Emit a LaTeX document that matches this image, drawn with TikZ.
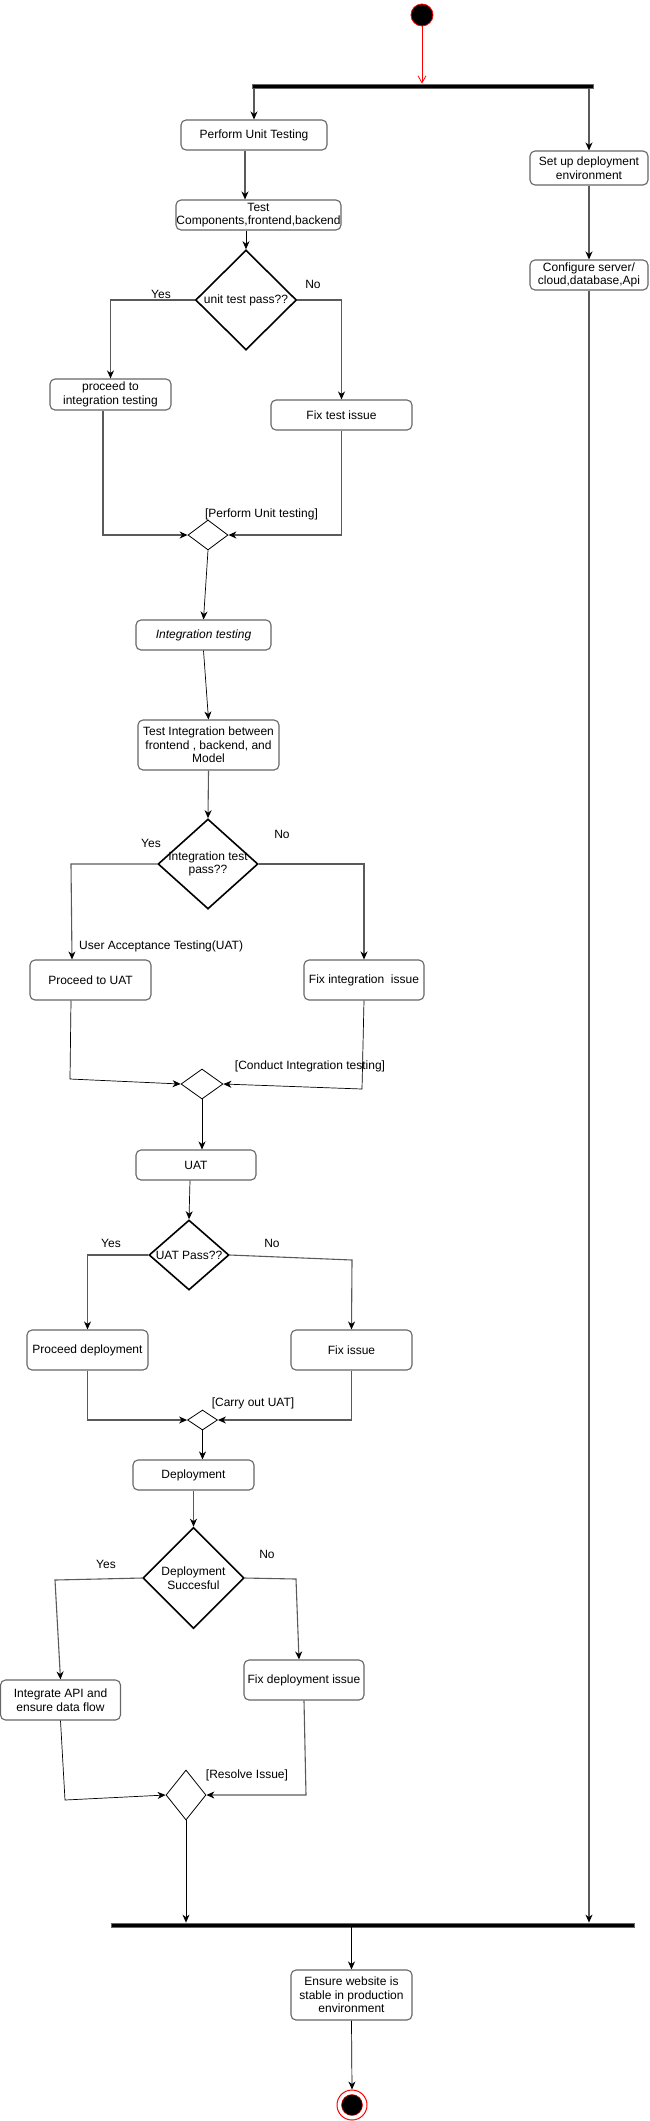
\documentclass[tikz,border=0pt]{standalone}
\usepackage{fontspec}
\setmainfont{Liberation Sans}
\usetikzlibrary{shapes.geometric,arrows.meta}
\definecolor{bgray}{HTML}{666666}
\definecolor{lgray}{HTML}{5A5A5A}
\definecolor{ured}{HTML}{FF0000}
\tikzset{
  act/.style={draw=bgray,line width=1.1pt,rounded corners=5pt,inner sep=0pt,align=center,
    font=\fontsize{12}{13.5}\selectfont},
  dec/.style={diamond,draw=black,line width=1.6pt,inner sep=0pt,align=center,
    font=\fontsize{12}{13.5}\selectfont},
  mrg/.style={diamond,draw=black,line width=0.8pt,inner sep=0pt},
  bar/.style={rectangle,fill=black,draw=bgray,line width=0.8pt,inner sep=0pt,minimum height=4pt},
  lbl/.style={font=\fontsize{12}{13.5}\selectfont,inner sep=0pt},
  gl/.style={draw=lgray,line width=1.1pt,-{Stealth[length=8pt,width=7pt,inset=2.5pt,black]}},
  bl/.style={draw=black,line width=0.7pt,-{Stealth[length=8pt,width=7pt,inset=2.5pt,black]}},
}
\newcommand{\zb}[1]{\makebox[0pt]{#1}}
\begin{document}
\begin{tikzpicture}[x=1pt,y=-1pt]
\useasboundingbox (0,0) rectangle (649,2121);
% start / end
\node[circle,fill=black,draw=ured,line width=0.8pt,minimum size=22pt,inner sep=0pt] (start) at (422,15) {};
\node[circle,fill=white,draw=ured,line width=1pt,minimum size=30pt,inner sep=0pt] (end) at (352,2105) {};
\node[circle,fill=black,draw=ured,line width=0.5pt,minimum size=21pt,inner sep=0pt] (endin) at (352,2105) {};
% bars
\node[bar,minimum width=341pt] (fork) at (422.5,86) {};
\node[bar,minimum width=523pt] (join) at (372.5,1925) {};
% activities
\node[act,minimum width=146pt,minimum height=30pt] (pu) at (254,135) {Perform Unit Testing};
\node[act,minimum width=165pt,minimum height=30pt] (tc) at (258.5,215) {\zb{Test}\\\zb{Components,frontend,backend}};
\node[dec,minimum width=101pt,minimum height=100pt] (de) at (246,300) {\zb{unit test pass??}};
\node[act,minimum width=121pt,minimum height=31pt] (pi) at (110.5,394.5) {proceed to\\integration testing};
\node[act,minimum width=141pt,minimum height=30pt] (ft) at (341.5,415) {Fix test issue};
\node[mrg,minimum width=40pt,minimum height=30pt] (m1) at (208,535) {};
\node[act,minimum width=135pt,minimum height=30pt,font=\fontsize{12}{13.5}\selectfont\itshape] (it) at (203.5,635) {Integration testing};
\node[act,minimum width=141pt,minimum height=50pt] (ti) at (208.5,745) {\zb{Test Integration between}\\\zb{frontend , backend, and}\\\zb{Model}};
\node[dec,minimum width=100pt,minimum height=90pt] (d2) at (208,864) {\zb{Integration test}\\\zb{pass??}};
\node[act,minimum width=121pt,minimum height=40pt] (pu2) at (90.5,980) {Proceed to UAT};
\node[act,minimum width=120pt,minimum height=40pt] (fi) at (364,980) {\zb{Fix integration\ \ issue}};
\node[mrg,minimum width=42pt,minimum height=30pt] (m2) at (202,1084) {};
\node[act,minimum width=120pt,minimum height=30pt] (uat) at (196,1165) {UAT};
\node[dec,minimum width=80pt,minimum height=70pt] (d3) at (189,1255) {\zb{UAT Pass??}};
\node[act,minimum width=121pt,minimum height=40pt] (pd) at (87.5,1350) {\zb{Proceed deployment}};
\node[act,minimum width=121pt,minimum height=40pt] (fx) at (351.5,1350) {Fix issue};
\node[mrg,minimum width=30pt,minimum height=20pt] (m3) at (202.5,1420) {};
\node[act,minimum width=121pt,minimum height=30pt] (dep) at (193.5,1475) {Deployment};
\node[dec,minimum width=101pt,minimum height=101pt] (d4) at (193.5,1578) {\zb{Deployment}\\\zb{Succesful}};
\node[act,minimum width=120pt,minimum height=40pt] (ia) at (60.5,1700) {\zb{Integrate API and}\\\zb{ensure data flow}};
\node[act,minimum width=120pt,minimum height=40pt] (fd) at (304,1680) {\zb{Fix deployment issue}};
\node[mrg,minimum width=40pt,minimum height=50pt] (m4) at (186,1795) {};
\node[act,minimum width=118pt,minimum height=34pt] (su) at (589,168) {\zb{Set up deployment}\\\zb{environment}};
\node[act,minimum width=118pt,minimum height=30pt] (cf) at (589,275) {\zb{Configure server/}\\\zb{cloud,database,Api}};
\node[act,minimum width=121pt,minimum height=50pt] (es) at (351.5,1995) {\zb{Ensure website is}\\\zb{stable in production}\\\zb{environment}};
% labels
\node[lbl] (l1) at (161,294) {Yes};
\node[lbl] (l2) at (313,284) {No};
\node[lbl] (l3) at (261.5,514) {[Perform Unit testing]};
\node[lbl] (l4) at (151,843) {Yes};
\node[lbl] (l5) at (282,834) {No};
\node[lbl,anchor=west] (l6) at (79,946) {User Acceptance Testing(UAT)};
\node[lbl] (l7) at (310,1066) {[Conduct Integration testing]};
\node[lbl] (l8) at (111,1243) {Yes};
\node[lbl] (l9) at (272,1243) {No};
\node[lbl] (l10) at (253,1403) {[Carry out UAT]};
\node[lbl] (l11) at (106,1564) {Yes};
\node[lbl] (l12) at (267,1554) {No};
\node[lbl] (l13) at (247,1775) {[Resolve Issue]};
% helper coordinates
\coordinate (y2) at (71,864);
\coordinate (p2) at (70,1079);
\coordinate (f2) at (362,1089);
\coordinate (n3) at (352,1260);
\coordinate (y4) at (55,1580);
\coordinate (n4) at (296,1579);
\coordinate (a4) at (65,1800);
\coordinate (b4) at (306,1795);
% connectors
\draw[ured,line width=0.8pt,-{Straight Barb[length=7pt,width=8pt]}] (start) -- (start |- fork.north);
\draw[gl] (pu.north |- fork.south) -- (pu.north);
\draw[gl] (su.north |- fork.south) -- (su.north);
\draw[gl] (su.south) -- (cf.north);
\draw[gl] ([xshift=-9pt]pu.south) -- ([xshift=-9pt]pu.south |- tc.north);
\draw[bl] (de.north |- tc.south) -- (de.north);
\draw[gl] (de.west) -| (pi.north);
\draw[gl] (de.east) -| (ft.north);
\draw[gl] ([xshift=-7.5pt]pi.south) |- (m1.west);
\draw[gl] (ft.south) |- (m1.east);
\draw[bl] (m1.south) -- (it.north);
\draw[bl] (it.south) -- (ti.north);
\draw[gl] (ti.south) -- (d2.north);
\draw[gl] (d2.west) -- (y2) -- ([xshift=-18.5pt]pu2.north);
\draw[gl] (d2.east) -| (fi.north);
\draw[bl] ([xshift=-19.5pt]pu2.south) -- (p2) -- (m2.west);
\draw[bl] (fi.south) -- (f2) -- (m2.east);
\draw[bl] (m2.south) -- (m2.south |- uat.north);
\draw[bl] ([xshift=-6pt]uat.south) -- (d3.north);
\draw[gl] (d3.west) -| (pd.north);
\draw[gl] (d3.east) -- (n3) -- (fx.north);
\draw[gl] (pd.south) |- (m3.west);
\draw[gl] (fx.south) |- (m3.east);
\draw[bl] (m3.south) -- (m3.south |- dep.north);
\draw[gl] (dep.south) -- (d4.north);
\draw[gl] (d4.west) -- (y4) -- (ia.north);
\draw[gl] (d4.east) -- (n4) -- ([xshift=-5pt]fd.north);
\draw[bl] (ia.south) -- (a4) -- (m4.west);
\draw[gl] (fd.south) -- (b4) -- (m4.east);
\draw[bl] (m4.south) -- (m4.south |- join.north);
\draw[gl] (cf.south) -- (cf.south |- join.north);
\draw[bl] (es.north |- join.south) -- (es.north);
\draw[bl] (es.south) -- (end.north);
\end{tikzpicture}
\end{document}
